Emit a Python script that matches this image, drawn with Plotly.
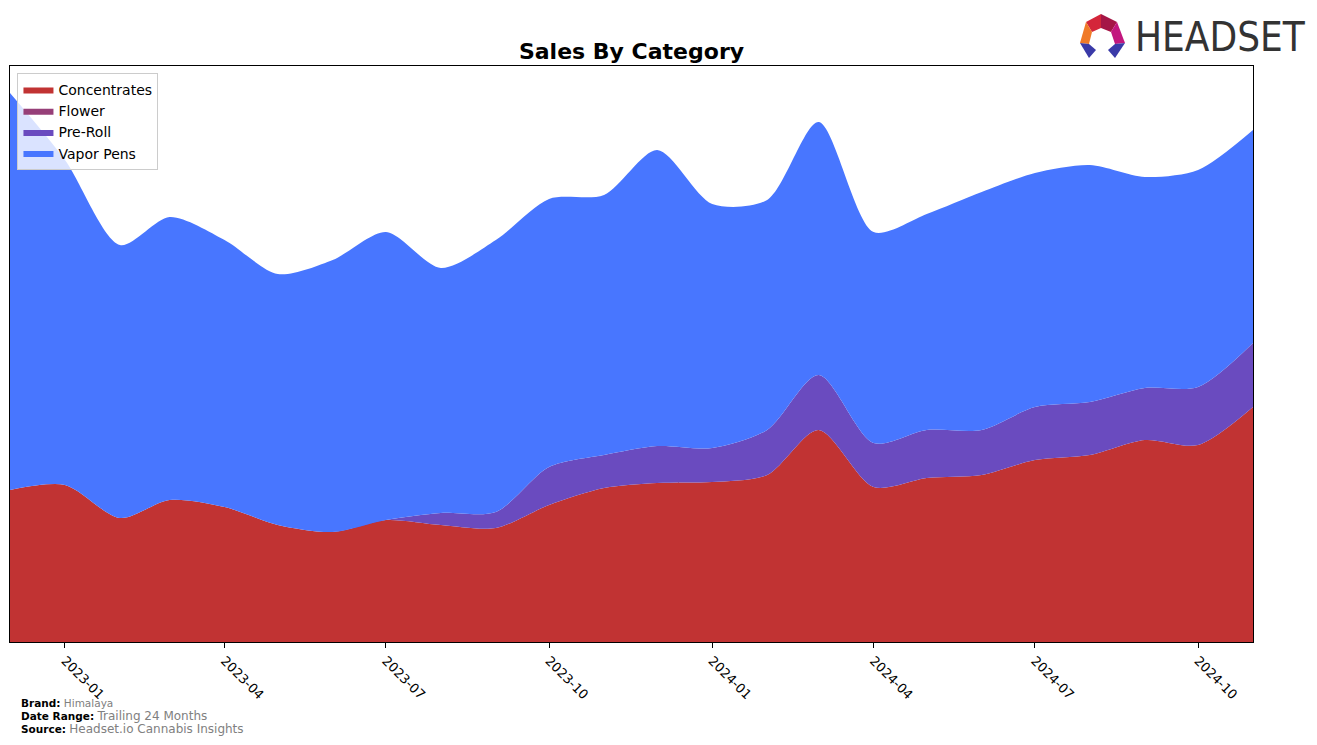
import plotly.graph_objects as go

months = ["2022-12-01", "2023-01-01", "2023-02-01", "2023-03-01", "2023-04-01", "2023-05-01",
          "2023-06-01", "2023-07-01", "2023-08-01", "2023-09-01", "2023-10-01", "2023-11-01",
          "2023-12-01", "2024-01-01", "2024-02-01", "2024-03-01", "2024-04-01", "2024-05-01",
          "2024-06-01", "2024-07-01", "2024-08-01", "2024-09-01", "2024-10-01", "2024-11-01"]

concentrates = [152, 157, 124, 142, 135, 117, 110, 122, 117, 114, 137, 154,
                159, 160, 167, 212, 155, 164, 167, 182, 187, 202, 197, 235]
flower = [0] * 24
pre_roll = [0, 0, 0, 0, 0, 0, 0, 0, 12, 16, 38, 33,
            37, 34, 45, 55, 44, 48, 45, 53, 53, 52, 58, 64]
total = [549, 482, 397, 425, 402, 368, 382, 410, 374, 402, 443, 447,
         492, 438, 442, 520, 410, 428, 450, 469, 477, 465, 472, 512]
vapor_pens = [t - c - f - p for t, c, f, p in zip(total, concentrates, flower, pre_roll)]

tick_vals = ["2023-01-01", "2023-04-01", "2023-07-01", "2023-10-01",
             "2024-01-01", "2024-04-01", "2024-07-01", "2024-10-01"]
tick_text = ["2023-01", "2023-04", "2023-07", "2023-10", "2024-01", "2024-04", "2024-07", "2024-10"]

series = [("Concentrates", concentrates, "#c13333"),
          ("Flower", flower, "#963f78"),
          ("Pre-Roll", pre_roll, "#6a4bbf"),
          ("Vapor Pens", vapor_pens, "#4876ff")]

fig = go.Figure()
for name, vals, col in series:
    fig.add_trace(go.Scatter(x=months, y=vals, name=name, stackgroup="one",
                             mode="lines", line=dict(width=0, color=col, shape="spline", smoothing=0.8),
                             fillcolor=col))

W, H = 1317, 745
L, R, T, B = 10, 1253, 66, 642


def px2paper(x, y):
    return (x - L) / (R - L), (B - y) / (B - T)


def path(points):
    s = ""
    for i, (x, y) in enumerate(points):
        px, py = px2paper(x, y)
        s += ("M" if i == 0 else "L") + f"{px:.5f},{py:.5f} "
    return s + "Z"


shapes = []
logo_parts = [
    ([(1086, 22), (1101, 14), (1101, 28), (1092, 32)], "#d4263a"),
    ([(1101, 14), (1117, 22), (1111, 32), (1101, 28)], "#a51646"),
    ([(1086, 22), (1092, 32), (1089, 44), (1080, 43)], "#f07a28"),
    ([(1117, 22), (1125, 43), (1115, 44), (1111, 32)], "#c2177e"),
    ([(1080, 43), (1089, 44), (1096, 50), (1089, 58)], "#3a3aa8"),
    ([(1125, 43), (1115, 44), (1108, 50), (1115, 58)], "#3a3aa8"),
]
for pts, col in logo_parts:
    shapes.append(dict(type="path", xref="paper", yref="paper", path=path(pts),
                       fillcolor=col, line=dict(width=0), layer="above"))

annotations = []
hx, hy = px2paper(1133, 37)
annotations.append(dict(text="HEADSET", xref="paper", yref="paper", x=hx, y=hy,
                        xanchor="left", yanchor="middle", showarrow=False,
                        font=dict(family="DejaVu Sans Condensed, Roboto, sans-serif", size=40, color="#333333")))

footer = [("Brand:", "Himalaya", 703, 10.5), ("Date Range:", "Trailing 24 Months", 716, 12),
          ("Source:", "Headset.io Cannabis Insights", 729, 12)]
for lab, val, yy, sz in footer:
    fx, fy = px2paper(19, yy)
    annotations.append(dict(text=f"<b>{lab}</b> <span style='color:#808080;font-size:{sz}px'>{val}</span>",
                            xref="paper", yref="paper", x=fx, y=fy, xanchor="left", yanchor="middle",
                            showarrow=False, font=dict(family="DejaVu Sans, sans-serif", size=10.5, color="#000000")))

fig.update_layout(
    width=W, height=H,
    margin=dict(l=L, r=W - R, t=T, b=H - B),
    paper_bgcolor="white", plot_bgcolor="white",
    title=dict(text="<b>Sales By Category</b>", x=(L + R) / 2 / W, xanchor="center",
               y=1 - 51 / H, yanchor="middle",
               font=dict(family="DejaVu Sans, sans-serif", size=22, color="#000000")),
    xaxis=dict(range=["2022-12-01", "2024-11-01"], tickvals=tick_vals, ticktext=tick_text,
               tickangle=45, ticks="outside", ticklen=5, tickcolor="#000", showgrid=False,
               zeroline=False, showline=True, linecolor="#000", linewidth=1, mirror=True,
               tickfont=dict(family="DejaVu Sans, sans-serif", size=13, color="#000")),
    yaxis=dict(range=[0, 576], showticklabels=False, ticks="", showgrid=False, zeroline=False,
               showline=True, linecolor="#000", linewidth=1, mirror=True),
    legend=dict(x=0.006, y=0.988, xanchor="left", yanchor="top", traceorder="normal",
                bgcolor="rgba(255,255,255,0.8)", bordercolor="#cccccc", borderwidth=1,
                font=dict(family="DejaVu Sans, sans-serif", size=14, color="#000")),
    shapes=shapes, annotations=annotations, showlegend=True,
)

fig.write_html("out.html")
